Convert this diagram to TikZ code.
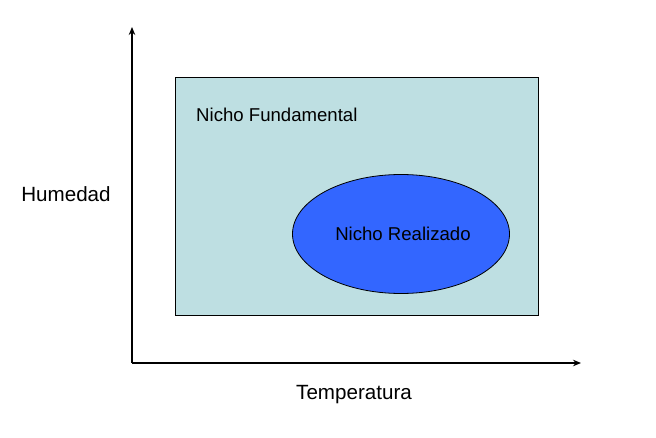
\documentclass[tikz,border=0pt]{standalone}
\usepackage{fontspec}
\setmainfont{Liberation Sans}
\usetikzlibrary{arrows.meta,shapes.geometric}
\definecolor{fundfill}{RGB}{190,223,226}
\definecolor{realfill}{RGB}{51,102,255}
\begin{document}
\begin{tikzpicture}[x=1pt,y=-1pt,
    axis/.style={line width=1.6pt, -{Stealth[length=8pt,width=6.5pt]}},
    lbl/.style={font=\fontsize{20.6}{24}\selectfont, inner sep=0pt},
    inlbl/.style={font=\fontsize{18.6}{22}\selectfont, inner sep=0pt}]
            \useasboundingbox (0,0) rectangle (656,438);

            \coordinate (O) at (132,363);
            \coordinate (ytip) at (132,27);
            \coordinate (xtip) at (581,363);

            \filldraw[fill=fundfill, line width=0.9pt] (175,77) rectangle (538,315);

            \node[ellipse, draw, line width=0.8pt, fill=realfill, minimum width=217pt, minimum height=119pt, inner sep=0pt] (real) at (401,234) {};
            \node[inlbl] (realtxt) at (403,234) {Nicho Realizado};
            \node[inlbl, anchor=west] (fund) at (196,115) {Nicho Fundamental};

            \draw[axis] (O) -- (ytip);
            \draw[axis] (O) -- (xtip);

            \node[lbl] (hum) at (66,194) {Humedad};
            \node[lbl] (temp) at (354,395) {Temperatura};
        \end{tikzpicture}
\end{document}
